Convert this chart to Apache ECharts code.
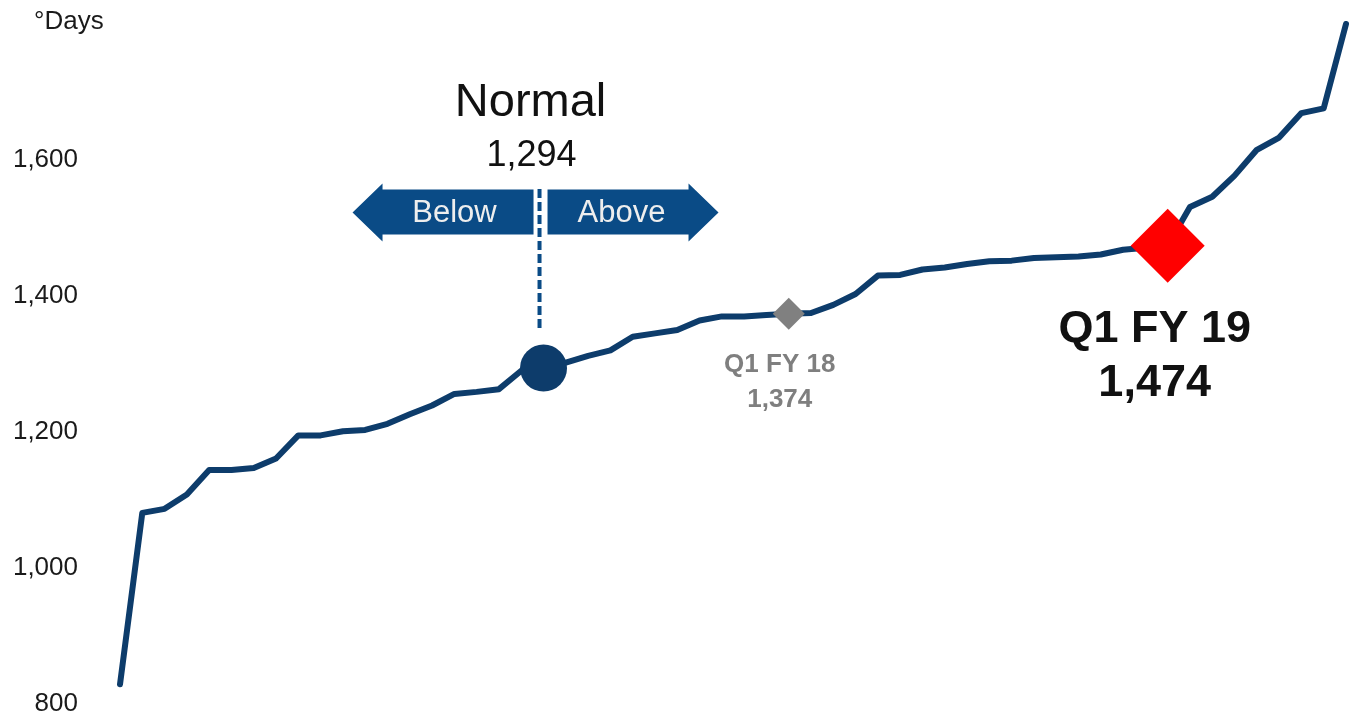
<!DOCTYPE html>
<html>
<head>
<meta charset="utf-8">
<script src="https://cdn.jsdelivr.net/npm/echarts@6/dist/echarts.min.js"></script>
<style>
  html, body { margin: 0; padding: 0; background: #fff; }
  #main { width: 1357px; height: 717px; }
</style>
</head>
<body>
<div id="main"></div>
<script>
// ranked heating degree days, lowest to highest
var ranks = [];
for (var i = 1; i <= 56; i++) ranks.push(String(i));

var degreeDays = [829, 1081, 1087, 1108, 1144, 1144, 1147, 1161, 1195, 1195,
  1201, 1203, 1212, 1226, 1239, 1256, 1259, 1263, 1290, 1296,
  1302, 1312, 1320, 1340, 1345, 1350, 1364, 1370, 1370, 1372,
  1374, 1375, 1387, 1403, 1430, 1431, 1439, 1442, 1447, 1451,
  1452, 1456, 1457, 1458, 1461, 1468, 1471, 1474, 1531, 1546,
  1577, 1615, 1633, 1669, 1676, 1800];

var yTicks = [800, 1000, 1200, 1400, 1600];

// highlighted points: [rank index, value]
var normalPoint = [19, 1294];
var fy18Point = [30, 1374];
var fy19Point = [47, 1474];

var FONT = '"Liberation Sans", Arial, sans-serif';
var navy = '#0d3c6b';
var arrowBlue = '#0a4b86';

var dom = document.getElementById('main');
var myChart = echarts.init(dom);

var option = {
  animation: false,
  title: {
    text: '°Days',
    left: 29, top: 4,
    textStyle: { fontFamily: FONT, fontSize: 26, fontWeight: 'normal', color: '#1a1a1a' }
  },
  grid: { left: 120, right: 11, top: 24, bottom: 12 },
  xAxis: {
    type: 'category',
    data: ranks,
    boundaryGap: false,
    show: false
  },
  yAxis: {
    type: 'value',
    min: 800, max: 1800, interval: 200,
    axisLine: { show: false },
    axisTick: { show: false },
    splitLine: { show: false },
    axisLabel: {
      margin: 42,
      fontFamily: FONT, fontSize: 26, color: '#1a1a1a',
      formatter: function (v) {
        return yTicks.indexOf(v) >= 0 ? v.toLocaleString('en-US') : '';
      }
    }
  },
  series: [
    {
      name: 'Degree days',
      type: 'line',
      data: degreeDays,
      showSymbol: false,
      lineStyle: { color: navy, width: 6, join: 'round', cap: 'round' },
      z: 2
    },
    {
      name: 'Normal',
      type: 'scatter',
      data: [normalPoint],
      symbol: 'circle',
      symbolSize: 47,
      itemStyle: { color: navy, opacity: 1 },
      z: 3
    },
    {
      name: 'Q1 FY 18',
      type: 'scatter',
      data: [fy18Point],
      symbol: 'diamond',
      symbolSize: 32,
      itemStyle: { color: '#808080', opacity: 1 },
      label: {
        show: true,
        position: 'bottom',
        distance: 18,
        offset: [-9, 0],
        formatter: function (p) { return 'Q1 FY 18\n' + p.value[1].toLocaleString('en-US'); },
        fontFamily: FONT, fontSize: 26, fontWeight: 'bold', color: '#7f7f7f', lineHeight: 35
      },
      z: 3
    },
    {
      name: 'Q1 FY 19',
      type: 'scatter',
      data: [fy19Point],
      symbol: 'diamond',
      symbolSize: 74,
      itemStyle: { color: '#ff0000', opacity: 1 },
      label: {
        show: true,
        position: 'bottom',
        distance: 20,
        offset: [-13, 0],
        formatter: function (p) { return 'Q1 FY 19\n' + p.value[1].toLocaleString('en-US'); },
        fontFamily: FONT, fontSize: 45, fontWeight: 'bold', color: '#111', lineHeight: 54
      },
      z: 3
    }
  ]
};

myChart.setOption(option, true);

// Normal callout placed relative to the normal point
var p = myChart.convertToPixel({ gridIndex: 0 }, normalPoint);
var cx = p[0] - 4;
myChart.setOption({
  graphic: [
    { type: 'text', x: cx - 9, y: 103, style: { text: 'Normal', font: '47px ' + FONT, fill: '#111', align: 'center', verticalAlign: 'middle' } },
    { type: 'text', x: cx - 8, y: 156, style: { text: normalPoint[1].toLocaleString('en-US'), font: '36px ' + FONT, fill: '#111', align: 'center', verticalAlign: 'middle' } },
    { type: 'polygon', shape: { points: [[cx - 187, 212.5], [cx - 157, 183.5], [cx - 157, 189.5], [cx - 6, 189.5], [cx - 6, 234.5], [cx - 157, 234.5], [cx - 157, 241.5]] }, style: { fill: arrowBlue } },
    { type: 'polygon', shape: { points: [[cx + 8, 189.5], [cx + 149, 189.5], [cx + 149, 183.5], [cx + 179, 212.5], [cx + 149, 241.5], [cx + 149, 234.5], [cx + 8, 234.5]] }, style: { fill: arrowBlue } },
    { type: 'text', x: cx - 85, y: 213, style: { text: 'Below', font: '31px ' + FONT, fill: '#eeeeee', align: 'center', verticalAlign: 'middle' } },
    { type: 'text', x: cx + 82, y: 213, style: { text: 'Above', font: '31px ' + FONT, fill: '#eeeeee', align: 'center', verticalAlign: 'middle' } },
    { type: 'line', shape: { x1: cx, y1: 189, x2: cx, y2: 331 }, style: { stroke: arrowBlue, lineWidth: 4, lineDash: [9, 4] } }
  ]
});
</script>
</body>
</html>
